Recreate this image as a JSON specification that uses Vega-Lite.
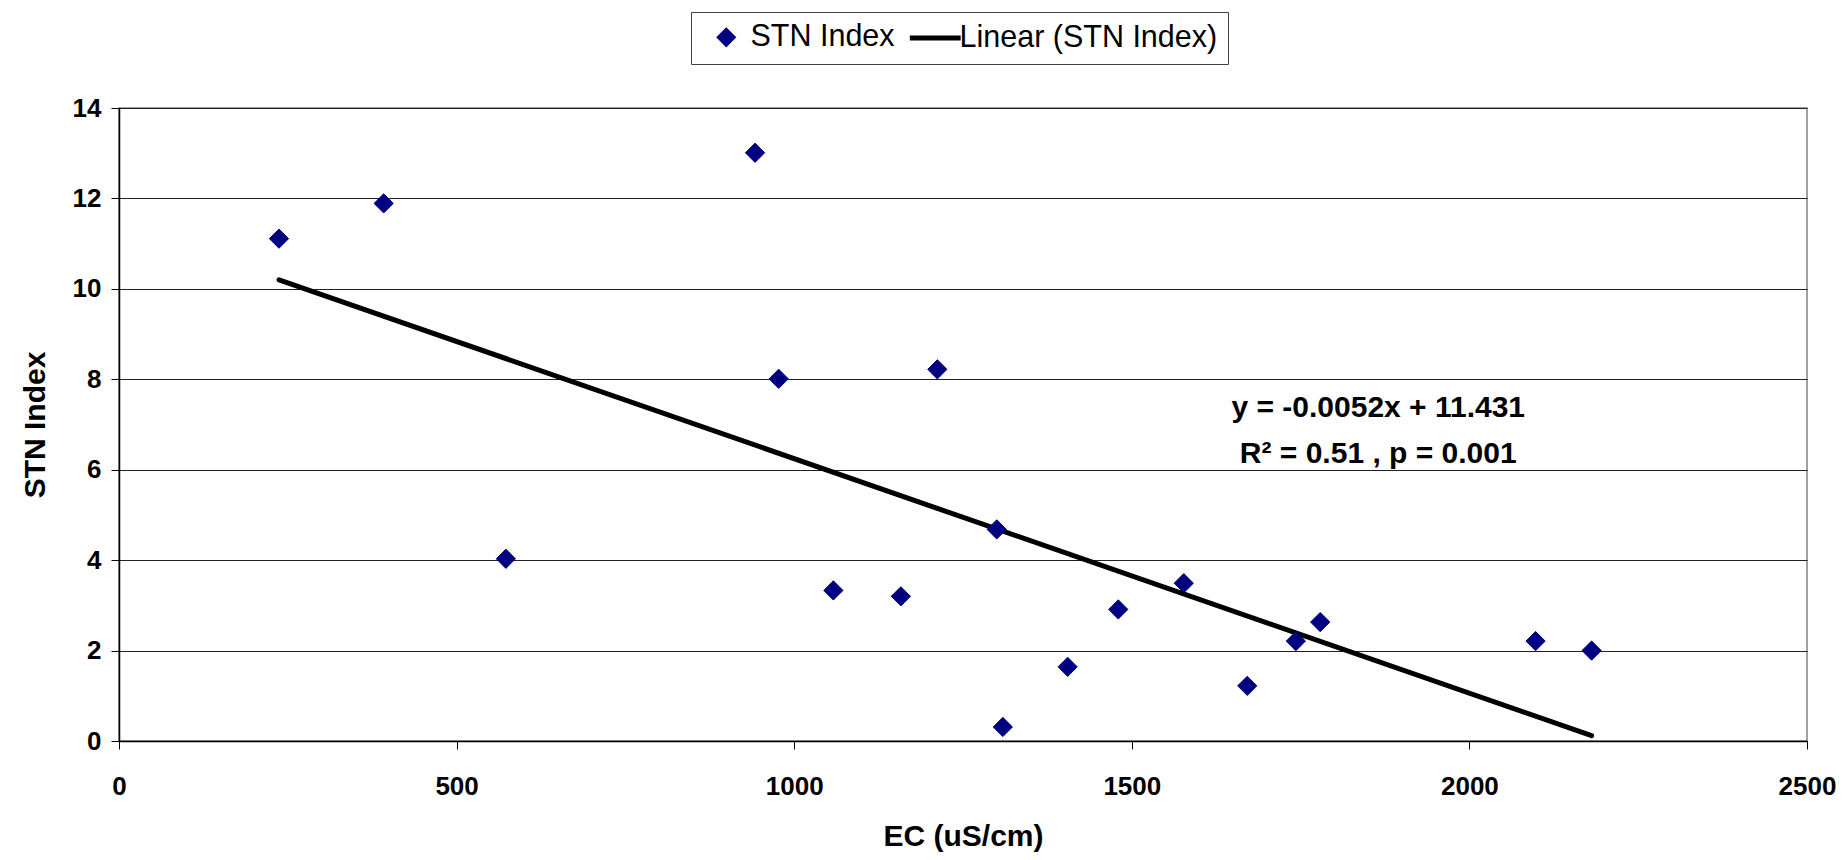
{
  "$schema": "https://vega.github.io/schema/vega-lite/v6.json",
  "width": 1688,
  "height": 633,
  "autosize": {"type": "none"},
  "padding": {"left": 119, "top": 108, "right": 36, "bottom": 119},
  "background": "white",
  "config": {
    "font": "Liberation Sans",
    "view": {"stroke": "#808080", "strokeWidth": 1.5}
  },
  "datasets": {
    "points": [
      {"ec": 237, "stn": 11.11, "series": "STN Index"},
      {"ec": 392, "stn": 11.89, "series": "STN Index"},
      {"ec": 573, "stn": 4.03, "series": "STN Index"},
      {"ec": 942, "stn": 13.01, "series": "STN Index"},
      {"ec": 977, "stn": 8.01, "series": "STN Index"},
      {"ec": 1058, "stn": 3.33, "series": "STN Index"},
      {"ec": 1158, "stn": 3.2, "series": "STN Index"},
      {"ec": 1212, "stn": 8.22, "series": "STN Index"},
      {"ec": 1300, "stn": 4.68, "series": "STN Index"},
      {"ec": 1309, "stn": 0.31, "series": "STN Index"},
      {"ec": 1405, "stn": 1.64, "series": "STN Index"},
      {"ec": 1480, "stn": 2.91, "series": "STN Index"},
      {"ec": 1577, "stn": 3.49, "series": "STN Index"},
      {"ec": 1671, "stn": 1.22, "series": "STN Index"},
      {"ec": 1743, "stn": 2.21, "series": "STN Index"},
      {"ec": 1779, "stn": 2.63, "series": "STN Index"},
      {"ec": 2098, "stn": 2.21, "series": "STN Index"},
      {"ec": 2181, "stn": 2.0, "series": "STN Index"}
    ],
    "trend": [
      {"ec": 237, "stn": 10.2},
      {"ec": 2181, "stn": 0.12}
    ],
    "note": [
      {"ec": 1865, "stn": 7.37, "label": "y = -0.0052x + 11.431"},
      {"ec": 1865, "stn": 6.35, "label": "R² = 0.51 , p = 0.001"}
    ]
  },
  "layer": [
    {
      "data": {"name": "trend"},
      "mark": {"type": "line", "color": "black", "strokeWidth": 5, "strokeCap": "round"},
      "encoding": {
        "x": {
          "field": "ec", "type": "quantitative",
          "scale": {"domain": [0, 2500], "nice": false, "zero": false},
          "axis": {
            "title": "EC (uS/cm)", "values": [0, 500, 1000, 1500, 2000, 2500], "format": "d",
            "grid": false, "domainColor": "#000", "domainWidth": 1.5,
            "tickColor": "#000", "tickSize": 8, "tickWidth": 1,
            "labelFontSize": 26, "labelFontWeight": "bold", "labelColor": "#000",
            "labelPadding": 24, "labelFlush": false,
            "titleFontSize": 30, "titleFontWeight": "bold", "titleColor": "#000",
            "titlePadding": 22
          }
        },
        "y": {
          "field": "stn", "type": "quantitative",
          "scale": {"domain": [0, 14], "nice": false},
          "axis": {
            "title": "STN Index", "values": [0, 2, 4, 6, 8, 10, 12, 14], "format": "d",
            "grid": true, "gridColor": "#222", "gridWidth": 1,
            "domainColor": "#000", "domainWidth": 1.5,
            "tickColor": "#000", "tickSize": 8, "tickWidth": 1,
            "labelFontSize": 26, "labelFontWeight": "bold", "labelColor": "#000",
            "labelPadding": 10,
            "titleFontSize": 30, "titleFontWeight": "bold", "titleColor": "#000",
            "titlePadding": 22
          }
        }
      }
    },
    {
      "data": {"name": "points"},
      "mark": {"type": "point", "filled": false, "fill": "#000080", "fillOpacity": 1, "strokeWidth": 1, "opacity": 1, "size": 370},
      "encoding": {
        "x": {"field": "ec", "type": "quantitative"},
        "y": {"field": "stn", "type": "quantitative"},
        "color": {
          "field": "series", "type": "nominal",
          "scale": {"domain": ["STN Index", "Linear (STN Index)"], "range": ["#000080", "#000000"]},
          "legend": {
            "title": null, "orient": "none", "legendX": 572, "legendY": -96,
            "direction": "horizontal",
            "strokeColor": "#444", "fillColor": "white",
            "padding": 10, "labelFontSize": 30.5, "labelColor": "#000",
            "labelLimit": 500, "labelOffset": 9, "columnPadding": 4,
            "symbolOffset": 10,
            "symbolSize": 170, "symbolStrokeWidth": 5
          }
        },
        "shape": {
          "field": "series", "type": "nominal",
          "scale": {"domain": ["STN Index", "Linear (STN Index)"], "range": ["diamond", "M-3.9,0H3.9"]},
          "legend": {"title": null}
        }
      }
    },
    {
      "data": {"name": "note"},
      "mark": {"type": "text", "fontSize": 30, "fontWeight": "bold", "color": "#000", "align": "center", "baseline": "middle"},
      "encoding": {
        "x": {"field": "ec", "type": "quantitative"},
        "y": {"field": "stn", "type": "quantitative"},
        "text": {"field": "label"}
      }
    }
  ]
}
